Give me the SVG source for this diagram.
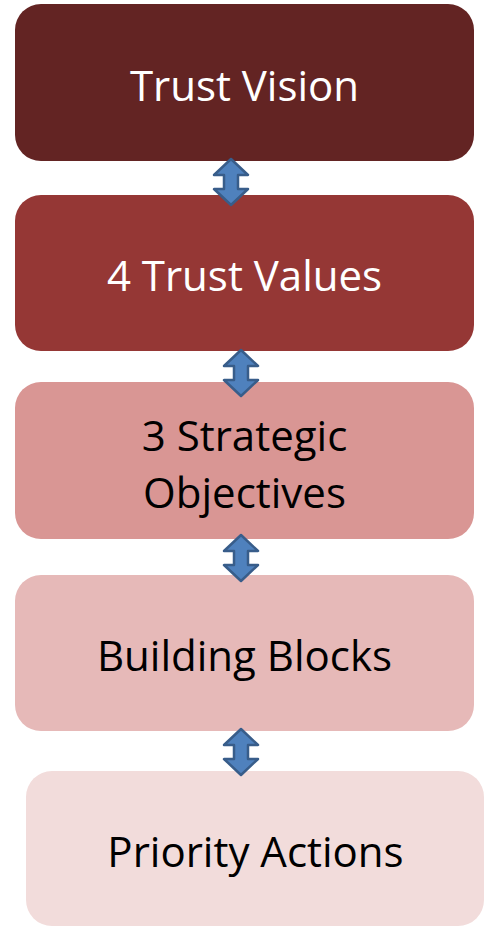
<svg xmlns="http://www.w3.org/2000/svg" width="489" height="930" viewBox="0 0 489 930">
<style>
.box{stroke:none}
.t{font-family:"Open Sans","Liberation Sans",sans-serif;font-size:42px;text-anchor:middle;dominant-baseline:central}
.w{fill:#FFFFFF}
.k{fill:#000000}
.arr{fill:#4F81BD;stroke:#385D8A;stroke-width:2.5;stroke-linejoin:round}
</style>
<defs>
<path id="ud" d="M0,-23 L17,-7 L7,-7 L7,7 L17,7 L0,23 L-17,7 L-7,7 L-7,-7 L-17,-7 Z"/>
</defs>
<g id="node-vision">
<rect class="box" x="15" y="4" width="459" height="157" rx="26" fill="#632423"/>
<text class="t w" x="244.5" y="84">Trust Vision</text>
</g>
<g id="node-values">
<rect class="box" x="15" y="195" width="459" height="156" rx="26" fill="#953735"/>
<text class="t w" x="244.5" y="274">4 Trust Values</text>
</g>
<g id="node-objectives">
<rect class="box" x="15" y="382" width="459" height="157" rx="26" fill="#D99694"/>
<text class="t k" x="244.5" y="434">3 Strategic</text>
<text class="t k" x="244.5" y="491">Objectives</text>
</g>
<g id="node-blocks">
<rect class="box" x="15" y="575" width="459" height="156" rx="26" fill="#E6B9B8"/>
<text class="t k" x="244.5" y="654">Building Blocks</text>
</g>
<g id="node-actions">
<rect class="box" x="26" y="771" width="458" height="155" rx="26" fill="#F2DCDB"/>
<text class="t k" x="255.5" y="850">Priority Actions</text>
</g>
<g id="connectors">
<use href="#ud" class="arr" x="231" y="182"/>
<use href="#ud" class="arr" x="241" y="373"/>
<use href="#ud" class="arr" x="241" y="558"/>
<use href="#ud" class="arr" x="241" y="752"/>
</g>
</svg>
